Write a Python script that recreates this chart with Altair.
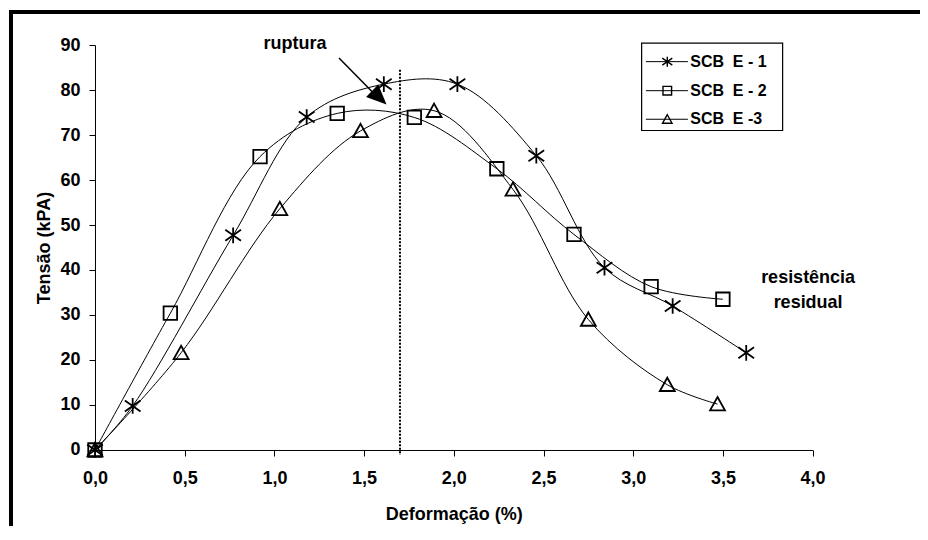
import altair as alt
import pandas as pd

# ---- data ----
series_names = ["SCB\u00a0 E - 1", "SCB\u00a0 E - 2", "SCB\u00a0 E -3"]

e1_x = [0.0, 0.21, 0.77, 1.18, 1.61, 2.02, 2.46, 2.84, 3.22, 3.63]
e1_y = [0.0, 9.8, 47.7, 74.0, 81.3, 81.3, 65.4, 40.5, 32.0, 21.6]

e2_x = [0.0, 0.42, 0.92, 1.35, 1.78, 2.24, 2.67, 3.10, 3.50]
e2_y = [0.0, 30.4, 65.2, 74.8, 73.9, 62.5, 47.9, 36.3, 33.5]

e3_x = [0.0, 0.48, 1.03, 1.48, 1.89, 2.33, 2.75, 3.19, 3.47]
e3_y = [0.0, 21.6, 53.6, 70.9, 75.4, 57.9, 29.0, 14.5, 10.2]

x_ticks = [0.0, 0.5, 1.0, 1.5, 2.0, 2.5, 3.0, 3.5, 4.0]
y_ticks = [0, 10, 20, 30, 40, 50, 60, 70, 80, 90]

rupture_x = [1.70]
rupture_y = [84.5]
rupture_y2 = [-1.1]

arrow_x = [1.36]
arrow_y = [87.1]
arrow_x2 = [1.545]
arrow_y2 = [79.6]
arrowhead_x = [1.585]
arrowhead_y = [78.3]

note_text = ["ruptura", "resistência", "residual"]
note_x = [1.115, 3.975, 3.975]
note_y = [90.2, 38.2, 32.6]

# legend box drawn in data units (x: Deformação, y: Tensão)
legend_box_x = [3.047]
legend_box_x2 = [3.833]
legend_box_y = [90.4]
legend_box_y2 = [71.0]
legend_row_y = [86.3, 79.85, 73.5]
legend_line_x = 3.071
legend_line_x2 = 3.305
legend_mark_x = 3.19
legend_text_x = 3.318

# ---- tables ----
rows = []
for name, xs_, ys_ in zip(series_names, [e1_x, e2_x, e3_x], [e1_y, e2_y, e3_y]):
    for i, (xv, yv) in enumerate(zip(xs_, ys_)):
        rows.append({"serie": name, "i": i, "x": xv, "y": yv})
df = pd.DataFrame(rows)

df_rule = pd.DataFrame({"x": rupture_x, "y": rupture_y, "y2": rupture_y2})
df_arrow = pd.DataFrame({"x": arrow_x, "y": arrow_y, "x2": arrow_x2, "y2": arrow_y2})
df_head = pd.DataFrame({"x": arrowhead_x, "y": arrowhead_y})
df_notes = pd.DataFrame({"t": note_text, "x": note_x, "y": note_y})
df_dummy = pd.DataFrame({"a": [0]})
df_lbox = pd.DataFrame({"x": legend_box_x, "x2": legend_box_x2, "y": legend_box_y, "y2": legend_box_y2})
df_leg = pd.DataFrame({
    "serie": series_names,
    "y": legend_row_y,
    "x": [legend_line_x] * 3,
    "x2": [legend_line_x2] * 3,
    "mx": [legend_mark_x] * 3,
    "tx": [legend_text_x] * 3,
})

FONT = "Liberation Sans"

x_axis = alt.Axis(
    values=x_ticks,
    labelExpr="replace(format(datum.value, '.1f'), '.', ',')",
    title="Deformação (%)",
    grid=False, tickSize=6, tickColor="black", domainColor="black",
    labelPadding=14, labelFontSize=18, labelFontWeight="bold", labelColor="black",
    titlePadding=18, titleFontSize=18, titleFontWeight="bold", titleColor="black",
    labelFlush=False,
)
y_axis = alt.Axis(
    values=y_ticks,
    title="Tensão (kPA)",
    grid=False, tickSize=6, tickColor="black", domainColor="black",
    labelPadding=9, labelFontSize=18, labelFontWeight="bold", labelColor="black",
    titlePadding=6, titleFontSize=18, titleFontWeight="bold", titleColor="black",
    labelFlush=False,
)

xs = alt.Scale(domain=[0, 4], nice=False, zero=False)
ys = alt.Scale(domain=[0, 90], nice=False, zero=False)
X = alt.X("x:Q", scale=xs, axis=x_axis)
Y = alt.Y("y:Q", scale=ys, axis=y_axis)

marker_paths = [
    "M0,-1V1M-1,-0.7L1,0.7M-1,0.7L1,-0.7",
    "M-0.86,-0.86H0.86V0.86H-0.86Z",
    "M0,-0.9L0.95,0.8L-0.95,0.8Z",
]
SHAPE = alt.Shape("serie:N", scale=alt.Scale(domain=series_names, range=marker_paths), legend=None)

lines = alt.Chart(df).mark_line(
    interpolate="catmull-rom", color="black", strokeWidth=1
).encode(x=X, y=Y, detail="serie:N", order="i:Q")

points = alt.Chart(df).mark_point(
    filled=False, stroke="black", strokeWidth=1.8, size=246, opacity=1
).encode(x=X, y=Y, shape=SHAPE)

rule = alt.Chart(df_rule).mark_rule(
    color="black", strokeWidth=2, strokeDash=[2, 1.5]
).encode(x=X, y=Y, y2="y2:Q")

arrow = alt.Chart(df_arrow).mark_rule(color="black", strokeWidth=1.5).encode(
    x=X, y=Y, x2="x2:Q", y2="y2:Q"
)
head = alt.Chart(df_head).mark_point(
    shape="M1,0L-1,-0.875L-1,0.875Z", filled=True, color="black", opacity=1,
    size=400, angle=44,
).encode(x=X, y=Y)

notes = alt.Chart(df_notes).mark_text(
    font=FONT, fontSize=18, fontWeight="bold", color="black", baseline="middle", align="center"
).encode(x=X, y=Y, text="t:N")

# legend (drawn with the chart's own scales)
lbox = alt.Chart(df_lbox).mark_rect(fill="white", stroke="black", strokeWidth=1.2).encode(
    x=X, x2="x2:Q", y=Y, y2="y2:Q"
)
lrules = alt.Chart(df_leg).mark_rule(color="black", strokeWidth=1).encode(
    x=X, x2="x2:Q", y=Y
)
lmarks = alt.Chart(df_leg).mark_point(
    filled=False, stroke="black", strokeWidth=1.4, size=100, opacity=1
).encode(x=alt.X("mx:Q", scale=xs), y=Y, shape=SHAPE)
ltext = alt.Chart(df_leg).mark_text(
    font=FONT, fontSize=16, fontWeight="bold", color="black", align="left", baseline="middle"
).encode(x=alt.X("tx:Q", scale=xs), y=Y, text="serie:N")

border_top = alt.Chart(df_dummy).mark_rule(color="black", strokeWidth=4).encode(
    x=alt.value(-86), x2=alt.value(825), y=alt.value(-33)
)
border_left = alt.Chart(df_dummy).mark_rule(color="black", strokeWidth=4).encode(
    x=alt.value(-84), y=alt.value(-35), y2=alt.value(481)
)

chart = alt.layer(
    lines, rule, arrow, head, points, notes, lbox, lrules, lmarks, ltext, border_top, border_left
).properties(
    width=717.6, height=405,
    autosize=alt.AutoSizeParams(type="none"),
    padding={"left": 87, "top": 37, "right": 107, "bottom": 76},
    background="white",
).configure(font=FONT).configure_view(strokeWidth=0)

chart.save("out.html", embed_options={"renderer": "svg", "actions": False})
